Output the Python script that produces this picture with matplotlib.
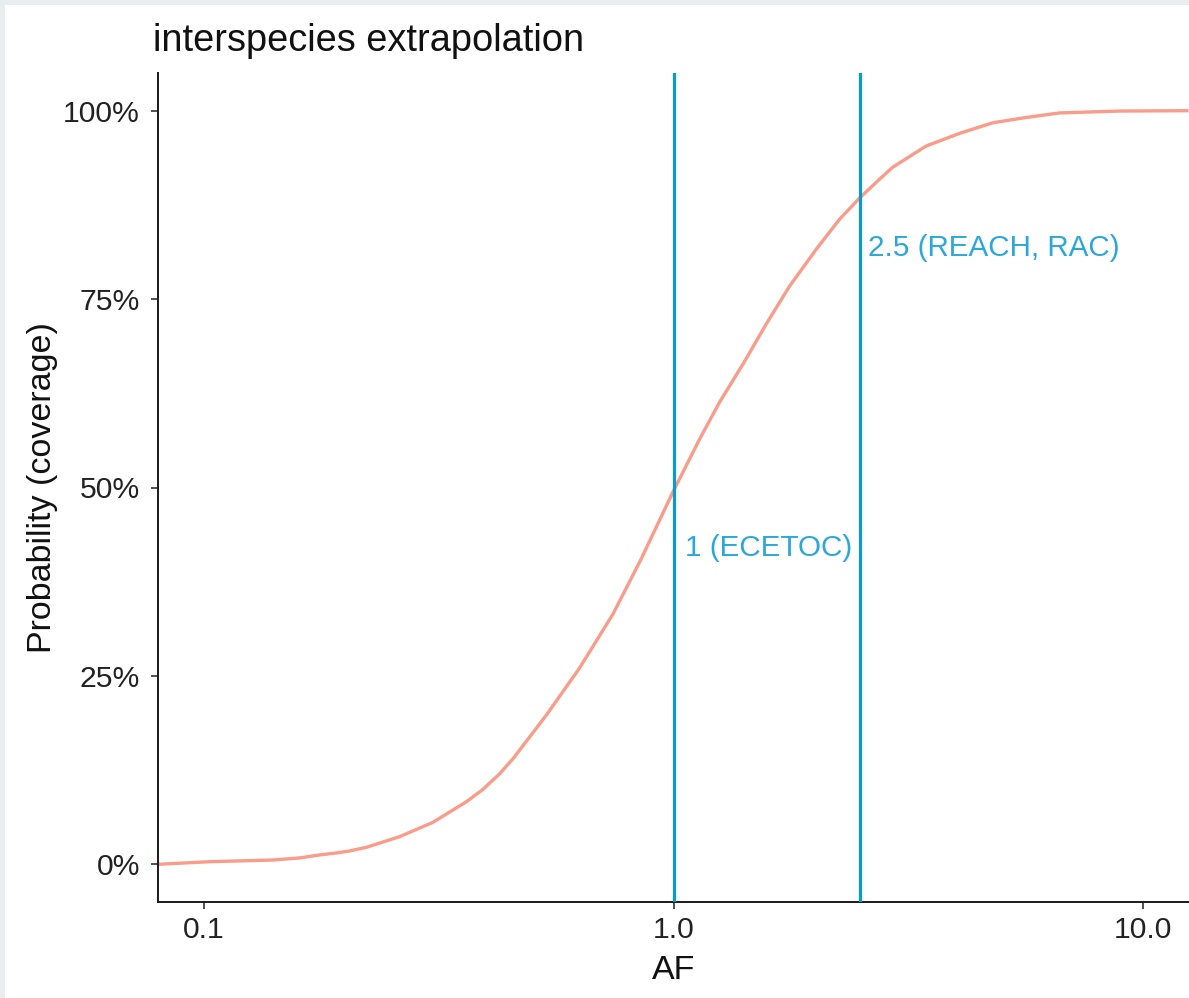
import matplotlib
matplotlib.use("Agg")
import matplotlib.pyplot as plt
from matplotlib.ticker import FixedLocator

af = [0.0798, 0.103, 0.140, 0.160, 0.176, 0.191, 0.204, 0.2216, 0.261, 0.307,
      0.362, 0.392, 0.426, 0.455, 0.536, 0.630, 0.743, 0.853, 0.997, 1.136,
      1.253, 1.416, 1.576, 1.766, 2.013, 2.258, 2.49, 2.746, 2.93, 3.45,
      4.07, 4.79, 5.64, 6.64, 8.91, 12.5]
prob = [0.000, 0.0035, 0.0057, 0.0085, 0.0124, 0.0150, 0.0177, 0.0225, 0.0367, 0.0556,
        0.083, 0.099, 0.120, 0.140, 0.198, 0.260, 0.332, 0.405, 0.494, 0.564,
        0.613, 0.667, 0.717, 0.767, 0.816, 0.856, 0.884, 0.909, 0.925, 0.953,
        0.970, 0.984, 0.991, 0.997, 0.9995, 1.0]
ref_af = [1.0, 2.5]
ref_labels = ["1 (ECETOC)", "2.5 (REACH, RAC)"]
ref_label_x = [1.06, 2.59]
ref_label_y = [0.42, 0.818]
x_ticks = [0.1, 1.0, 10.0]
x_tick_labels = ["0.1", "1.0", "10.0"]
y_ticks = [0, 0.25, 0.5, 0.75, 1.0]
y_tick_labels = ["0%", "25%", "50%", "75%", "100%"]

W, H = 1189, 998
plt.rcParams['font.family'] = ['Liberation Sans', 'DejaVu Sans']
fig = plt.figure(figsize=(W / 100, H / 100), dpi=100)
fig.patch.set_facecolor('#E9EDF0')
bg = fig.add_axes([5 / W, 0, 1 - 5 / W, 1 - 5 / H], zorder=-5)
bg.set_facecolor('white')
bg.set_xticks([]); bg.set_yticks([])
for s in bg.spines.values():
    s.set_visible(False)

left, right, top, bottom = 158, 1189, 73, 902
ax = fig.add_axes([left / W, 1 - bottom / H, (right - left) / W, (bottom - top) / H], zorder=1)
ax.set_facecolor('white')
ax.set_xscale('log')
ax.set_xlim(0.0798, 12.53)
ax.set_ylim(-0.05, 1.05)

ax.plot(af, prob, color='#FA9C8A', lw=2.4, solid_capstyle='butt',
        solid_joinstyle='round', zorder=2)

line_color = '#0A9BCD'
text_color = '#2BA7DB'
for xv in ref_af:
    ax.axvline(xv, color=line_color, lw=2.3, zorder=3)
for lab, lx, ly in zip(ref_labels, ref_label_x, ref_label_y):
    ax.text(lx, ly, lab, color=text_color, fontsize=21.3, ha='left', va='center')

ax.set_xticks(x_ticks)
ax.set_xticklabels(x_tick_labels)
ax.xaxis.set_minor_locator(FixedLocator([]))
ax.set_yticks(y_ticks)
ax.set_yticklabels(y_tick_labels)
ax.tick_params(axis='both', which='major', length=5, width=1.2, color='#333333',
               labelsize=21.7, labelcolor='#222222')
ax.tick_params(axis='y', pad=8)
ax.tick_params(axis='x', pad=5)

for s in ['top', 'right']:
    ax.spines[s].set_visible(False)
for s in ['left', 'bottom']:
    ax.spines[s].set_linewidth(1.4)
    ax.spines[s].set_color('#1a1a1a')

ax.set_xlabel('AF', fontsize=24.5, color='#111111', labelpad=8)
ax.set_ylabel('Probability (coverage)', fontsize=24.5, color='#111111', labelpad=4)

fig.text(153 / W, 1 - 41 / H, 'interspecies extrapolation', fontsize=27.4,
         color='#111111', ha='left', va='center')

fig.savefig('out.png', dpi=100, facecolor=fig.get_facecolor())
